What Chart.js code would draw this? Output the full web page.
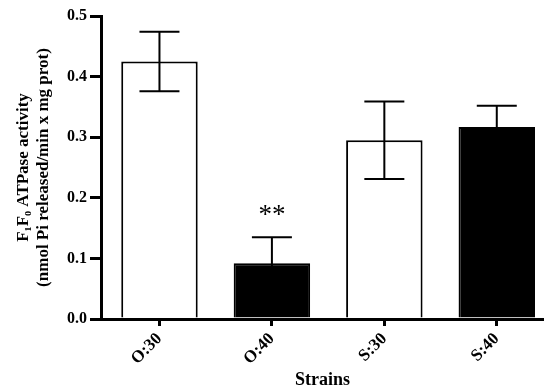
<!DOCTYPE html>
<html>
<head>
<meta charset="utf-8">
<script src="https://cdn.jsdelivr.net/npm/chart.js@4"></script>
<style>
  html, body { margin: 0; padding: 0; background: #fff; }
  canvas { display: block; }
</style>
</head>
<body>
<canvas id="atpaseChart" width="544" height="392"></canvas>
<script>
// strains and their mean activity +/- SEM
var strains = ['O:30', 'O:40', 'S:30', 'S:40'];
var activity = [0.425, 0.092, 0.295, 0.317];
var sem = [0.049, 0.043, 0.064, 0.035];
var significance = ['', '**', '', ''];
var yTickValues = [0, 0.1, 0.2, 0.3, 0.4, 0.5];

var serif = 'Liberation Serif, Times New Roman, serif';

// error bars + significance stars on top of the bars
var errorBars = {
  id: 'errorBars',
  afterDatasetsDraw: function (chart) {
    var ctx = chart.ctx;
    var x = chart.scales.x;
    var y = chart.scales.y;
    ctx.save();
    ctx.strokeStyle = '#000';
    ctx.fillStyle = '#000';
    ctx.lineWidth = 2;
    strains.forEach(function (s, i) {
      var px = x.getPixelForValue(i);
      var hi = y.getPixelForValue(activity[i] + sem[i]);
      var lo = y.getPixelForValue(activity[i] - sem[i]);
      var cap = 20;
      ctx.beginPath();
      ctx.moveTo(px, hi);
      ctx.lineTo(px, lo);
      ctx.moveTo(px - cap, hi);
      ctx.lineTo(px + cap, hi);
      ctx.moveTo(px - cap, lo);
      ctx.lineTo(px + cap, lo);
      ctx.stroke();
      if (significance[i]) {
        ctx.font = '27px ' + serif;
        ctx.textAlign = 'center';
        ctx.textBaseline = 'alphabetic';
        ctx.fillText(significance[i], px, hi - 14);
      }
    });
    ctx.restore();
  }
};

var ctx = document.getElementById('atpaseChart');
new Chart(ctx, {
  type: 'bar',
  data: {
    datasets: [{
      data: strains.map(function (s, i) { return { x: i, y: activity[i] }; }),
      backgroundColor: ['#ffffff', '#000000', '#ffffff', '#000000'],
      borderColor: '#000',
      borderWidth: 2,
      borderSkipped: 'bottom',
      barPercentage: 0.68,
      categoryPercentage: 1
    }]
  },
  options: {
    responsive: false,
    animation: false,
    layout: { padding: { top: 16, left: 0, right: 0, bottom: 0 } },
    plugins: {
      legend: { display: false },
      tooltip: { enabled: false }
    },
    scales: {
      x: {
        type: 'linear',
        min: -0.52,
        max: 3.42,
        offset: false,
        afterBuildTicks: function (scale) {
          scale.ticks = strains.map(function (s, i) { return { value: i }; });
        },
        afterFit: function (scale) { scale.height = 73; },
        ticks: {
          minRotation: 45,
          maxRotation: 45,
          padding: 3,
          color: '#000',
          font: { family: serif, size: 17, weight: 'bold' },
          callback: function (v) { return strains[v]; }
        },
        grid: {
          display: true,
          offset: false,
          drawOnChartArea: false,
          drawTicks: true,
          tickLength: 7,
          lineWidth: 3,
          color: '#000'
        },
        border: { display: true, color: '#000', width: 3, z: 1 },
        title: {
          display: true,
          text: 'Strains',
          color: '#000',
          font: { family: serif, size: 18, weight: 'bold', lineHeight: 1.2 },
          padding: { top: 0, bottom: 1 }
        }
      },
      y: {
        min: 0,
        max: 0.5,
        afterBuildTicks: function (scale) {
          scale.ticks = yTickValues.map(function (v) { return { value: v }; });
        },
        afterFit: function (scale) { scale.width = 101; },
        ticks: {
          padding: 3,
          color: '#000',
          font: { family: serif, size: 16, weight: 'bold' },
          callback: function (v) { return v.toFixed(1); }
        },
        grid: {
          display: true,
          drawOnChartArea: false,
          drawTicks: true,
          tickLength: 11,
          lineWidth: 3,
          color: '#000'
        },
        border: { display: true, color: '#000', width: 3, z: 1 },
        title: {
          display: true,
          text: ['F\u2081F\u2080 ATPase activity', '(nmol Pi released/min x mg prot)'],
          color: '#000',
          font: { family: serif, size: 17, weight: 'bold', lineHeight: 1.18 },
          padding: { top: 14, bottom: 0 }
        }
      }
    }
  },
  plugins: [errorBars]
});
</script>
</body>
</html>
